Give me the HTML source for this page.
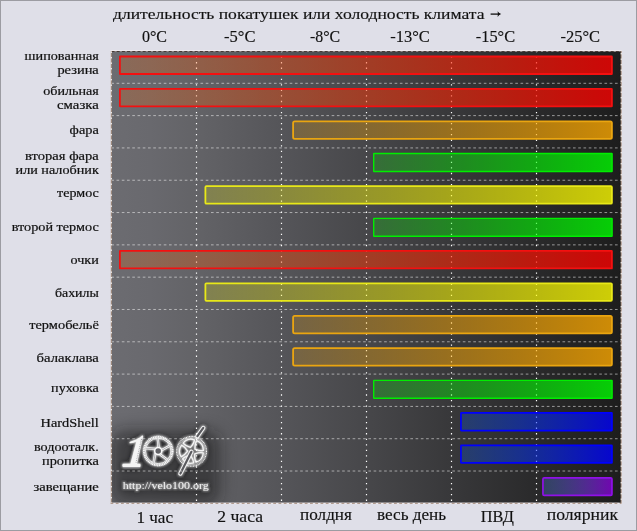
<!DOCTYPE html><html><head><meta charset="utf-8"><style>html,body{margin:0;padding:0;background:#dfdfe8;}svg{display:block;will-change:transform}</style></head><body>
<svg width="637" height="531" viewBox="0 0 637 531">
<defs>
<linearGradient id="bg" x1="0" y1="0" x2="1" y2="0">
<stop offset="0" stop-color="#6c6c71"/>
<stop offset="0.0765" stop-color="#69696e"/>
<stop offset="0.1667" stop-color="#636367"/>
<stop offset="0.333" stop-color="#555559"/>
<stop offset="0.5" stop-color="#47474a"/>
<stop offset="0.667" stop-color="#38383a"/>
<stop offset="0.833" stop-color="#2a2a2b"/>
<stop offset="0.92" stop-color="#232323"/>
<stop offset="1" stop-color="#1d1d1d"/>
</linearGradient>
<linearGradient id="gr" x1="0" y1="0" x2="1" y2="0"><stop offset="0" stop-color="#ff6600" stop-opacity="0.2"/><stop offset="1" stop-color="#ff0000" stop-opacity="0.78"/></linearGradient>
<linearGradient id="go" x1="0" y1="0" x2="1" y2="0"><stop offset="0" stop-color="#ffaa00" stop-opacity="0.2"/><stop offset="1" stop-color="#ffaa00" stop-opacity="0.78"/></linearGradient>
<linearGradient id="gy" x1="0" y1="0" x2="1" y2="0"><stop offset="0" stop-color="#ffff00" stop-opacity="0.2"/><stop offset="1" stop-color="#ffff00" stop-opacity="0.78"/></linearGradient>
<linearGradient id="gg" x1="0" y1="0" x2="1" y2="0"><stop offset="0" stop-color="#00ff00" stop-opacity="0.21"/><stop offset="1" stop-color="#00ff00" stop-opacity="0.78"/></linearGradient>
<linearGradient id="gb" x1="0" y1="0" x2="1" y2="0"><stop offset="0" stop-color="#0055ff" stop-opacity="0.25"/><stop offset="1" stop-color="#0000ff" stop-opacity="0.78"/></linearGradient>
<linearGradient id="gp" x1="0" y1="0" x2="1" y2="0"><stop offset="0" stop-color="#4a80e0" stop-opacity="0.3"/><stop offset="1" stop-color="#8a00dd" stop-opacity="0.76"/></linearGradient>
</defs>
<rect x="0.5" y="0.5" width="636" height="530" fill="#dfdfe8" stroke="#9c9ca2" stroke-width="1"/>
<text x="113" y="18.8" font-family="'Liberation Serif', serif" font-size="15.2" fill="#111" stroke="#111" stroke-width="0.15" textLength="371.5" lengthAdjust="spacingAndGlyphs">длительность покатушек или холодность климата</text>
<path d="M490.6 14.1 H499.6" stroke="#111" stroke-width="1.3"/><path d="M497.6 11.3 Q499 13.3 501.2 14.1 Q499 14.9 497.6 16.9 L497.9 14.1 Z" fill="#111"/>
<text x="141.9" y="41.6" font-family="'Liberation Serif', serif" font-size="16" fill="#111" stroke="#111" stroke-width="0.15" textLength="25.1" lengthAdjust="spacingAndGlyphs">0°C</text>
<text x="224.1" y="41.6" font-family="'Liberation Serif', serif" font-size="16" fill="#111" stroke="#111" stroke-width="0.15" textLength="31.4" lengthAdjust="spacingAndGlyphs">-5°C</text>
<text x="309.9" y="41.6" font-family="'Liberation Serif', serif" font-size="16" fill="#111" stroke="#111" stroke-width="0.15" textLength="30.2" lengthAdjust="spacingAndGlyphs">-8°C</text>
<text x="390.2" y="41.6" font-family="'Liberation Serif', serif" font-size="16" fill="#111" stroke="#111" stroke-width="0.15" textLength="39.6" lengthAdjust="spacingAndGlyphs">-13°C</text>
<text x="475.8" y="41.6" font-family="'Liberation Serif', serif" font-size="16" fill="#111" stroke="#111" stroke-width="0.15" textLength="39.3" lengthAdjust="spacingAndGlyphs">-15°C</text>
<text x="560.5" y="41.6" font-family="'Liberation Serif', serif" font-size="16" fill="#111" stroke="#111" stroke-width="0.15" textLength="39.6" lengthAdjust="spacingAndGlyphs">-25°C</text>
<text x="136.4" y="522.5" font-family="'Liberation Serif', serif" font-size="16" fill="#111" stroke="#111" stroke-width="0.15" textLength="36.7" lengthAdjust="spacingAndGlyphs">1 час</text>
<text x="217.3" y="522.4" font-family="'Liberation Serif', serif" font-size="16" fill="#111" stroke="#111" stroke-width="0.15" textLength="45.7" lengthAdjust="spacingAndGlyphs">2 часа</text>
<text x="300.1" y="520.1" font-family="'Liberation Serif', serif" font-size="16" fill="#111" stroke="#111" stroke-width="0.15" textLength="51.8" lengthAdjust="spacingAndGlyphs">полдня</text>
<text x="377.0" y="520.3" font-family="'Liberation Serif', serif" font-size="16" fill="#111" stroke="#111" stroke-width="0.15" textLength="69.1" lengthAdjust="spacingAndGlyphs">весь день</text>
<text x="480.8" y="521.6" font-family="'Liberation Serif', serif" font-size="16" fill="#111" stroke="#111" stroke-width="0.15" textLength="33.1" lengthAdjust="spacingAndGlyphs">ПВД</text>
<text x="546.7" y="519.9" font-family="'Liberation Serif', serif" font-size="16" fill="#111" stroke="#111" stroke-width="0.15" textLength="71.3" lengthAdjust="spacingAndGlyphs">полярник</text>
<rect x="111" y="51" width="510" height="451.7" fill="url(#bg)"/>
<filter id="logoFx" x="-40%" y="-50%" width="180%" height="200%">
<feGaussianBlur in="SourceAlpha" stdDeviation="3" result="sh"/>
<feComponentTransfer in="sh" result="sh2"><feFuncA type="linear" slope="2"/></feComponentTransfer>
<feFlood flood-color="#141416" flood-opacity="0.6"/>
<feComposite in2="sh2" operator="in" result="shadow"/>
<feGaussianBlur in="SourceGraphic" stdDeviation="1.1" result="glow"/>
<feMerge><feMergeNode in="shadow"/><feMergeNode in="glow"/><feMergeNode in="SourceGraphic"/></feMerge>
</filter>
<filter id="blur7" x="-50%" y="-50%" width="200%" height="200%"><feGaussianBlur stdDeviation="8"/></filter>
<clipPath id="chartclip"><rect x="111" y="51" width="510" height="451.7"/></clipPath>
<g clip-path="url(#chartclip)"><rect x="110" y="430" width="110" height="76" rx="14" fill="#151517" opacity="0.5" filter="url(#blur7)"/></g>
<g filter="url(#logoFx)">
<path d="M142.3 435.2 C141.5 436.6 137 440 130.6 441.4 Q129 441.9 129.5 443.2 Q133 443.6 136.4 441.6 L130.4 463.8 L122.8 463.8 Q121.8 465.4 122.8 467 L140.2 467 Q141 465.4 140.2 463.8 L136.9 463.8 L143.2 436.2 Z" fill="#f4f4f4"/>
<path d="M141.6 439 L135.9 463" stroke="#a0a0a4" stroke-width="1.1" stroke-dasharray="0.9 0.9" fill="none"/>
<path d="M123 467.6 H140" stroke="#8a8a8e" stroke-width="0.9" fill="none"/>
<g fill="none" stroke="#fafafa">
<circle cx="158.2" cy="451" r="14.2" stroke-width="2.0" stroke-dasharray="1.1 0.6"/>
<circle cx="158.2" cy="451" r="12.7" stroke-width="0.8"/>
<circle cx="158.2" cy="451" r="15.2" stroke-width="0.6" stroke-dasharray="0.8 0.8" opacity="0.7"/>
<path d="M158.7 448.0 L157.7 438.4" stroke-width="2.2"/>
<path d="M158.7 448.0 L157.7 438.4" stroke="#6a6a6e" stroke-width="0.5"/>
<path d="M155.2 448.9 L145.8 448.2" stroke-width="2.2"/>
<path d="M155.2 448.9 L145.8 448.2" stroke="#6a6a6e" stroke-width="0.5"/>
<path d="M155.2 453.1 L153.7 462.6" stroke-width="2.2"/>
<path d="M155.2 453.1 L153.7 462.6" stroke="#6a6a6e" stroke-width="0.5"/>
<path d="M160.1 454.5 L167.2 459.7" stroke-width="2.2"/>
<path d="M160.1 454.5 L167.2 459.7" stroke="#6a6a6e" stroke-width="0.5"/>
<path d="M161.5 450.3 L169.7 445.8" stroke-width="2.2"/>
<path d="M161.5 450.3 L169.7 445.8" stroke="#6a6a6e" stroke-width="0.5"/>
<circle cx="158.2" cy="450.9" r="3.5" stroke-width="1.5" fill="#626266"/>
</g>
<g fill="none" stroke="#f4f4f4">
<circle cx="191.6" cy="451.3" r="14.9" stroke-width="1.1" stroke-dasharray="1 0.6"/>
<circle cx="191.6" cy="451.3" r="13.6" stroke-width="0.5" opacity="0.6"/>
<path d="M190.50 447.45 Q185.11 445.66 183.11 443.10 Q187.69 437.65 194.45 439.85 Q194.11 443.08 190.50 447.45 Z" stroke-width="1.3" stroke-linejoin="round"/>
<path d="M194.92 449.06 Q194.96 443.38 196.77 440.69 Q203.37 443.36 203.37 450.48 Q200.20 451.15 194.92 449.06 Z" stroke-width="1.3" stroke-linejoin="round"/>
<path d="M194.75 453.76 Q200.17 452.05 203.29 452.94 Q202.79 460.04 196.02 462.24 Q194.40 459.43 194.75 453.76 Z" stroke-width="1.3" stroke-linejoin="round"/>
<path d="M190.23 455.06 Q193.53 459.68 193.65 462.92 Q186.74 464.64 182.56 458.88 Q184.73 456.48 190.23 455.06 Z" stroke-width="1.3" stroke-linejoin="round"/>
<path d="M187.60 451.16 Q184.23 455.73 181.18 456.84 Q177.41 450.80 181.59 445.05 Q184.56 446.37 187.60 451.16 Z" stroke-width="1.3" stroke-linejoin="round"/>
<path d="M180.4 473.6 L191.4 451.8" stroke="#f4f4f4" stroke-width="4.2" stroke-linecap="round"/>
<path d="M180.4 473.6 L191.4 451.8" stroke="#5a5a5e" stroke-width="2.2" stroke-linecap="round"/>
<path d="M197.4 436.2 L203.3 427.9" stroke="#f4f4f4" stroke-width="4.2" stroke-linecap="round"/>
<path d="M197.4 436.2 L203.3 427.9" stroke="#5a5a5e" stroke-width="2.2" stroke-linecap="round"/>
</g>
<text x="122.8" y="488.5" font-family="&quot;Liberation Serif&quot;, serif" font-size="11" fill="#f0f0f0" textLength="86" lengthAdjust="spacingAndGlyphs">http://velo100.org</text>
</g>
<line x1="111" y1="83.31" x2="621" y2="83.31" stroke="#ffffff" stroke-opacity="0.52" stroke-width="1" stroke-dasharray="2.65 2.5965" stroke-dashoffset="-0.3"/>
<line x1="111" y1="115.62" x2="621" y2="115.62" stroke="#ffffff" stroke-opacity="0.52" stroke-width="1" stroke-dasharray="2.65 2.5965" stroke-dashoffset="-0.3"/>
<line x1="111" y1="147.93" x2="621" y2="147.93" stroke="#ffffff" stroke-opacity="0.52" stroke-width="1" stroke-dasharray="2.65 2.5965" stroke-dashoffset="-0.3"/>
<line x1="111" y1="180.24" x2="621" y2="180.24" stroke="#ffffff" stroke-opacity="0.52" stroke-width="1" stroke-dasharray="2.65 2.5965" stroke-dashoffset="-0.3"/>
<line x1="111" y1="212.55" x2="621" y2="212.55" stroke="#ffffff" stroke-opacity="0.52" stroke-width="1" stroke-dasharray="2.65 2.5965" stroke-dashoffset="-0.3"/>
<line x1="111" y1="244.86" x2="621" y2="244.86" stroke="#ffffff" stroke-opacity="0.52" stroke-width="1" stroke-dasharray="2.65 2.5965" stroke-dashoffset="-0.3"/>
<line x1="111" y1="277.17" x2="621" y2="277.17" stroke="#ffffff" stroke-opacity="0.52" stroke-width="1" stroke-dasharray="2.65 2.5965" stroke-dashoffset="-0.3"/>
<line x1="111" y1="309.48" x2="621" y2="309.48" stroke="#ffffff" stroke-opacity="0.52" stroke-width="1" stroke-dasharray="2.65 2.5965" stroke-dashoffset="-0.3"/>
<line x1="111" y1="341.79" x2="621" y2="341.79" stroke="#ffffff" stroke-opacity="0.52" stroke-width="1" stroke-dasharray="2.65 2.5965" stroke-dashoffset="-0.3"/>
<line x1="111" y1="374.10" x2="621" y2="374.10" stroke="#ffffff" stroke-opacity="0.52" stroke-width="1" stroke-dasharray="2.65 2.5965" stroke-dashoffset="-0.3"/>
<line x1="111" y1="406.41" x2="621" y2="406.41" stroke="#ffffff" stroke-opacity="0.52" stroke-width="1" stroke-dasharray="2.65 2.5965" stroke-dashoffset="-0.3"/>
<line x1="111" y1="438.72" x2="621" y2="438.72" stroke="#ffffff" stroke-opacity="0.52" stroke-width="1" stroke-dasharray="2.65 2.5965" stroke-dashoffset="-0.3"/>
<line x1="111" y1="471.03" x2="621" y2="471.03" stroke="#ffffff" stroke-opacity="0.52" stroke-width="1" stroke-dasharray="2.65 2.5965" stroke-dashoffset="-0.3"/>
<line x1="196.5" y1="51" x2="196.5" y2="502.7" stroke="#ffffff" stroke-width="1.2" stroke-dasharray="1.3 4.238"/>
<line x1="281.5" y1="51" x2="281.5" y2="502.7" stroke="#ffffff" stroke-width="1.2" stroke-dasharray="1.3 4.238"/>
<line x1="366.5" y1="51" x2="366.5" y2="502.7" stroke="#ffffff" stroke-width="1.2" stroke-dasharray="1.3 4.238"/>
<line x1="451.5" y1="51" x2="451.5" y2="502.7" stroke="#ffffff" stroke-width="1.2" stroke-dasharray="1.3 4.238"/>
<line x1="536.5" y1="51" x2="536.5" y2="502.7" stroke="#ffffff" stroke-width="1.2" stroke-dasharray="1.3 4.238"/>
<g fill="none">
<path d="M110.5 50.5 H621.5" stroke="#eeeaee" stroke-width="1"/>
<path d="M111 51.5 H621" stroke="#8e8888" stroke-width="1"/>
<path d="M111 51.5 H621" stroke="#463a36" stroke-width="1" stroke-dasharray="3 2.2" stroke-dashoffset="-0.5"/>
<path d="M110.5 503.3 H621.5" stroke="#f0eaea" stroke-width="1"/>
<path d="M110.5 503.3 H621.5" stroke="#a08878" stroke-width="1" stroke-dasharray="2.8 2.45"/>
<path d="M111.3 51 V503" stroke="#a89080" stroke-width="1"/>
<path d="M111.3 51 V503" stroke="#ffffff" stroke-width="1" stroke-dasharray="1.4 4.1" stroke-dashoffset="-0.5"/>
<path d="M620.2 51 V503" stroke="#141414" stroke-opacity="0.7" stroke-width="1" stroke-dasharray="3 2.5"/>
<path d="M621.2 51 V503" stroke="#a89080" stroke-width="1"/>
<path d="M621.2 51 V503" stroke="#ffffff" stroke-width="1" stroke-dasharray="1.4 4.1" stroke-dashoffset="-2"/>
</g>
<rect x="119.90" y="56.50" width="492.00" height="17.50" rx="0.3" fill="url(#gr)" stroke="#f41010" stroke-width="1.8"/>
<rect x="119.90" y="88.91" width="492.00" height="17.50" rx="0.3" fill="url(#gr)" stroke="#f41010" stroke-width="1.8"/>
<rect x="293.10" y="121.32" width="318.80" height="17.50" rx="1.6" fill="url(#go)" stroke="#eaa510" stroke-width="1.8"/>
<rect x="373.70" y="153.53" width="238.40" height="17.90" rx="0.3" fill="url(#gg)" stroke="#00ee00" stroke-width="1.4"/>
<rect x="205.40" y="186.14" width="406.50" height="17.50" rx="1.0" fill="url(#gy)" stroke="#e8e818" stroke-width="1.8"/>
<rect x="373.70" y="218.35" width="238.40" height="17.90" rx="0.3" fill="url(#gg)" stroke="#00ee00" stroke-width="1.4"/>
<rect x="119.90" y="250.96" width="492.00" height="17.50" rx="0.3" fill="url(#gr)" stroke="#f41010" stroke-width="1.8"/>
<rect x="205.40" y="283.37" width="406.50" height="17.50" rx="1.0" fill="url(#gy)" stroke="#e8e818" stroke-width="1.8"/>
<rect x="293.10" y="315.78" width="318.80" height="17.50" rx="1.6" fill="url(#go)" stroke="#eaa510" stroke-width="1.8"/>
<rect x="293.10" y="348.19" width="318.80" height="17.50" rx="1.6" fill="url(#go)" stroke="#eaa510" stroke-width="1.8"/>
<rect x="373.70" y="380.40" width="238.40" height="17.90" rx="0.3" fill="url(#gg)" stroke="#00ee00" stroke-width="1.4"/>
<rect x="460.95" y="412.96" width="151.00" height="17.60" rx="0.3" fill="url(#gb)" stroke="#0000ff" stroke-width="1.7"/>
<rect x="460.95" y="445.37" width="151.00" height="17.60" rx="0.3" fill="url(#gb)" stroke="#0000ff" stroke-width="1.7"/>
<rect x="542.95" y="477.78" width="69.00" height="17.60" rx="1.2" fill="url(#gp)" stroke="#9010e8" stroke-width="1.7"/>
<text x="24.6" y="60.0" font-family="'Liberation Serif', serif" font-size="12.2" fill="#111" stroke="#111" stroke-width="0.2" textLength="74.2" lengthAdjust="spacingAndGlyphs">шипованная</text>
<text x="57.4" y="73.8" font-family="'Liberation Serif', serif" font-size="12.2" fill="#111" stroke="#111" stroke-width="0.2" textLength="41.4" lengthAdjust="spacingAndGlyphs">резина</text>
<text x="43.2" y="94.7" font-family="'Liberation Serif', serif" font-size="12.2" fill="#111" stroke="#111" stroke-width="0.2" textLength="55.6" lengthAdjust="spacingAndGlyphs">обильная</text>
<text x="57.0" y="108.8" font-family="'Liberation Serif', serif" font-size="12.2" fill="#111" stroke="#111" stroke-width="0.2" textLength="41.8" lengthAdjust="spacingAndGlyphs">смазка</text>
<text x="69.6" y="133.8" font-family="'Liberation Serif', serif" font-size="12.2" fill="#111" stroke="#111" stroke-width="0.2" textLength="29.2" lengthAdjust="spacingAndGlyphs">фара</text>
<text x="25.1" y="160.0" font-family="'Liberation Serif', serif" font-size="12.2" fill="#111" stroke="#111" stroke-width="0.2" textLength="73.7" lengthAdjust="spacingAndGlyphs">вторая фара</text>
<text x="15.6" y="174.0" font-family="'Liberation Serif', serif" font-size="12.2" fill="#111" stroke="#111" stroke-width="0.2" textLength="83.2" lengthAdjust="spacingAndGlyphs">или налобник</text>
<text x="57.0" y="197.3" font-family="'Liberation Serif', serif" font-size="12.2" fill="#111" stroke="#111" stroke-width="0.2" textLength="41.8" lengthAdjust="spacingAndGlyphs">термос</text>
<text x="11.7" y="231.0" font-family="'Liberation Serif', serif" font-size="12.2" fill="#111" stroke="#111" stroke-width="0.2" textLength="87.1" lengthAdjust="spacingAndGlyphs">второй термос</text>
<text x="70.5" y="263.7" font-family="'Liberation Serif', serif" font-size="12.2" fill="#111" stroke="#111" stroke-width="0.2" textLength="28.3" lengthAdjust="spacingAndGlyphs">очки</text>
<text x="54.9" y="297.3" font-family="'Liberation Serif', serif" font-size="12.2" fill="#111" stroke="#111" stroke-width="0.2" textLength="43.9" lengthAdjust="spacingAndGlyphs">бахилы</text>
<text x="29.2" y="328.7" font-family="'Liberation Serif', serif" font-size="12.2" fill="#111" stroke="#111" stroke-width="0.2" textLength="69.6" lengthAdjust="spacingAndGlyphs">термобельё</text>
<text x="36.6" y="362.3" font-family="'Liberation Serif', serif" font-size="12.2" fill="#111" stroke="#111" stroke-width="0.2" textLength="62.2" lengthAdjust="spacingAndGlyphs">балаклава</text>
<text x="51.1" y="392.3" font-family="'Liberation Serif', serif" font-size="12.2" fill="#111" stroke="#111" stroke-width="0.2" textLength="47.7" lengthAdjust="spacingAndGlyphs">пуховка</text>
<text x="40.6" y="427.3" font-family="'Liberation Serif', serif" font-size="12.2" fill="#111" stroke="#111" stroke-width="0.2" textLength="58.2" lengthAdjust="spacingAndGlyphs">HardShell</text>
<text x="34.0" y="450.9" font-family="'Liberation Serif', serif" font-size="12.2" fill="#111" stroke="#111" stroke-width="0.2" textLength="64.8" lengthAdjust="spacingAndGlyphs">водооталк.</text>
<text x="42.0" y="465.2" font-family="'Liberation Serif', serif" font-size="12.2" fill="#111" stroke="#111" stroke-width="0.2" textLength="56.8" lengthAdjust="spacingAndGlyphs">пропитка</text>
<text x="33.5" y="490.6" font-family="'Liberation Serif', serif" font-size="12.2" fill="#111" stroke="#111" stroke-width="0.2" textLength="65.3" lengthAdjust="spacingAndGlyphs">завещание</text>
</svg></body></html>
